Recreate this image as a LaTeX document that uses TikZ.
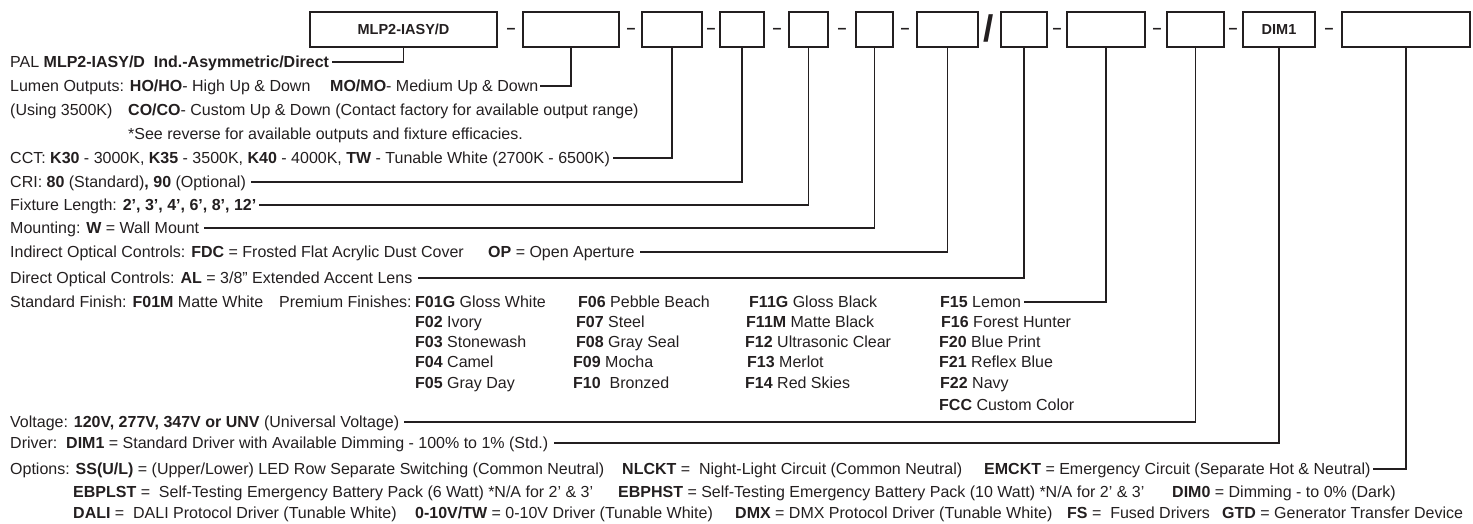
\documentclass[tikz,border=0pt]{standalone}
\usepackage{fontspec}
\setmainfont{Liberation Sans}
\definecolor{ink}{RGB}{35,31,32}
\tikzset{
  txt/.style={anchor=west, inner sep=0pt, text height=11.5pt, text depth=0pt, text=ink, font=\fontsize{16}{19}\selectfont},
  box/.style={draw=ink, line width=1.9pt, inner sep=0pt, minimum height=35pt, text=ink, font=\fontsize{14.5}{17}\selectfont\bfseries},
  conn/.style={draw=ink, line width=1.8pt},
  sep/.style={anchor=base, inner sep=0pt, text=ink, font=\fontsize{16}{19}\selectfont\bfseries},
}
\begin{document}
\begin{tikzpicture}[x=1pt,y=-1pt]
\useasboundingbox (0,0) rectangle (1473,523);
% boxes
\node[box, minimum width=187pt] (b1) at (403.5,29.5) {MLP2-IASY/D};
\node[box, minimum width=96pt] (b2) at (571,29.5) {};
\node[box, minimum width=60pt] (b3) at (672,29.5) {};
\node[box, minimum width=44pt] (b4) at (742,29.5) {};
\node[box, minimum width=39pt] (b5) at (808.5,29.5) {};
\node[box, minimum width=37pt] (b6) at (874.5,29.5) {};
\node[box, minimum width=61pt] (b7) at (947.5,29.5) {};
\node[box, minimum width=46pt] (b8) at (1024,29.5) {};
\node[box, minimum width=78pt] (b9) at (1106,29.5) {};
\node[box, minimum width=57pt] (b10) at (1195.5,29.5) {};
\node[box, minimum width=72pt] (b11) at (1279,29.5) {DIM1};
\node[box, minimum width=128pt] (b12) at (1406,29.5) {};
% separators
\node[sep] (s1) at (511,33) {–};
\node[sep] (s2) at (631,33) {–};
\node[sep] (s3) at (711,33) {–};
\node[sep] (s4) at (777,33) {–};
\node[sep] (s5) at (842,33) {–};
\node[sep] (s6) at (905,33) {–};
\node[anchor=base, inner sep=0pt, text=ink, font=\fontsize{37}{40}\selectfont\bfseries] (s7) at (989,41) {/};
\node[sep] (s8) at (1057,33) {–};
\node[sep] (s9) at (1157,33) {–};
\node[sep] (s10) at (1233,33) {–};
\node[sep] (s11) at (1329,33) {–};
% texts
\node[txt] (t1) at (10,62) {PAL \textbf{MLP2-IASY/D\ \ Ind.-Asymmetric/Direct}};
\node[txt] (t2a) at (10,86) {Lumen Outputs: \textbf{HO/HO}- High Up \& Down};
\node[txt] (t2) at (330,86) {\textbf{MO/MO}- Medium Up \& Down};
\node[txt] (t3a) at (10,110) {(Using 3500K)};
\node[txt] (t3b) at (128,110) {\textbf{CO/CO}- Custom Up \& Down (Contact factory for available output range)};
\node[txt] (t3c) at (128,134) {*See reverse for available outputs and fixture efficacies.};
\node[txt] (t3) at (10,158) {CCT: \textbf{K30} - 3000K, \textbf{K35} - 3500K, \textbf{K40} - 4000K, \textbf{TW} - Tunable White (2700K - 6500K)};
\node[txt] (t4) at (10,182) {CRI: \textbf{80} (Standard)\textbf{, 90} (Optional)};
\node[txt] (t5) at (10,205) {Fixture Length: \textbf{2’, 3’, 4’, 6’, 8’, 12’}};
\node[txt] (t6) at (10,228) {Mounting: \textbf{W} = Wall Mount};
\node[txt] (t7a) at (10,252) {Indirect Optical Controls: \textbf{FDC} = Frosted Flat Acrylic Dust Cover};
\node[txt] (t7) at (488,252) {\textbf{OP} = Open Aperture};
\node[txt] (t8) at (10,278) {Direct Optical Controls: \textbf{AL} = 3/8” Extended Accent Lens};
\node[txt] (t9a) at (10,302) {Standard Finish: \textbf{F01M} Matte White};
\node[txt] (t9b) at (279,302) {Premium Finishes:};
% finishes
\node[txt] (f01) at (415,302) {\textbf{F01G} Gloss White};
\node[txt] (f02) at (415,322) {\textbf{F02} Ivory};
\node[txt] (f03) at (415,342) {\textbf{F03} Stonewash};
\node[txt] (f04) at (415,362) {\textbf{F04} Camel};
\node[txt] (f05) at (415,383) {\textbf{F05} Gray Day};
\node[txt] (f06) at (578,302) {\textbf{F06} Pebble Beach};
\node[txt] (f07) at (576,322) {\textbf{F07} Steel};
\node[txt] (f08) at (576,342) {\textbf{F08} Gray Seal};
\node[txt] (f09) at (573,362) {\textbf{F09} Mocha};
\node[txt] (f10) at (573,383) {\textbf{F10}\ \ Bronzed};
\node[txt] (f11) at (749,302) {\textbf{F11G} Gloss Black};
\node[txt] (f12) at (746,322) {\textbf{F11M} Matte Black};
\node[txt] (f13) at (745,342) {\textbf{F12} Ultrasonic Clear};
\node[txt] (f14) at (747,362) {\textbf{F13} Merlot};
\node[txt] (f15) at (745,383) {\textbf{F14} Red Skies};
\node[txt] (t9) at (940,302) {\textbf{F15} Lemon};
\node[txt] (f16) at (941,322) {\textbf{F16} Forest Hunter};
\node[txt] (f17) at (939,342) {\textbf{F20} Blue Print};
\node[txt] (f18) at (939,362) {\textbf{F21} Reflex Blue};
\node[txt] (f19) at (940,383) {\textbf{F22} Navy};
\node[txt] (f20) at (939,405) {\textbf{FCC} Custom Color};
% electrical
\node[txt] (t10) at (10,422) {Voltage: \textbf{120V, 277V, 347V or UNV} (Universal Voltage)};
\node[txt] (t11) at (10,443) {Driver:\ \ \textbf{DIM1} = Standard Driver with Available Dimming - 100\% to 1\% (Std.)};
\node[txt] (t12a) at (10,469) {Options: \textbf{SS(U/L)} = (Upper/Lower) LED Row Separate Switching (Common Neutral)};
\node[txt] (t12b) at (622,469) {\textbf{NLCKT} =\ \ Night-Light Circuit (Common Neutral)};
\node[txt] (t12) at (984,469) {\textbf{EMCKT} = Emergency Circuit (Separate Hot \& Neutral)};
\node[txt] (o1) at (73,492) {\textbf{EBPLST} =\ \ Self-Testing Emergency Battery Pack (6 Watt) *N/A for 2’ \& 3’};
\node[txt] (o2) at (618,492) {\textbf{EBPHST} = Self-Testing Emergency Battery Pack (10 Watt) *N/A for 2’ \& 3’};
\node[txt] (o3) at (1172,492) {\textbf{DIM0} = Dimming - to 0\% (Dark)};
\node[txt] (o4) at (73,513) {\textbf{DALI} =\ \ DALI Protocol Driver (Tunable White)};
\node[txt] (o5) at (415,513) {\textbf{0-10V/TW} = 0-10V Driver (Tunable White)};
\node[txt] (o6) at (735,513) {\textbf{DMX} = DMX Protocol Driver (Tunable White)};
\node[txt] (o7) at (1067,513) {\textbf{FS} =\ \ Fused Drivers};
\node[txt] (o8) at (1222,513) {\textbf{GTD} = Generator Transfer Device};
% connectors
\draw[conn] (b1.south) |- ([xshift=3pt]t1.east);
\draw[conn] (b2.south) |- ([xshift=2pt]t2.east);
\draw[conn] (b3.south) |- ([xshift=3pt]t3.east);
\draw[conn] (b4.south) |- ([xshift=5pt]t4.east);
\draw[conn] (b5.south) |- ([xshift=3pt]t5.east);
\draw[conn] (b6.south) |- ([xshift=5pt]t6.east);
\draw[conn] (b7.south) |- ([xshift=5pt]t7.east);
\draw[conn] (b8.south) |- ([xshift=5pt]t8.east);
\draw[conn] (b9.south) |- ([xshift=3pt]t9.east);
\draw[conn] (b10.south) |- ([xshift=5pt]t10.east);
\draw[conn] (b11.south) |- ([xshift=5pt]t11.east);
\draw[conn] (b12.south) |- ([xshift=2pt]t12.east);
\end{tikzpicture}
\end{document}
